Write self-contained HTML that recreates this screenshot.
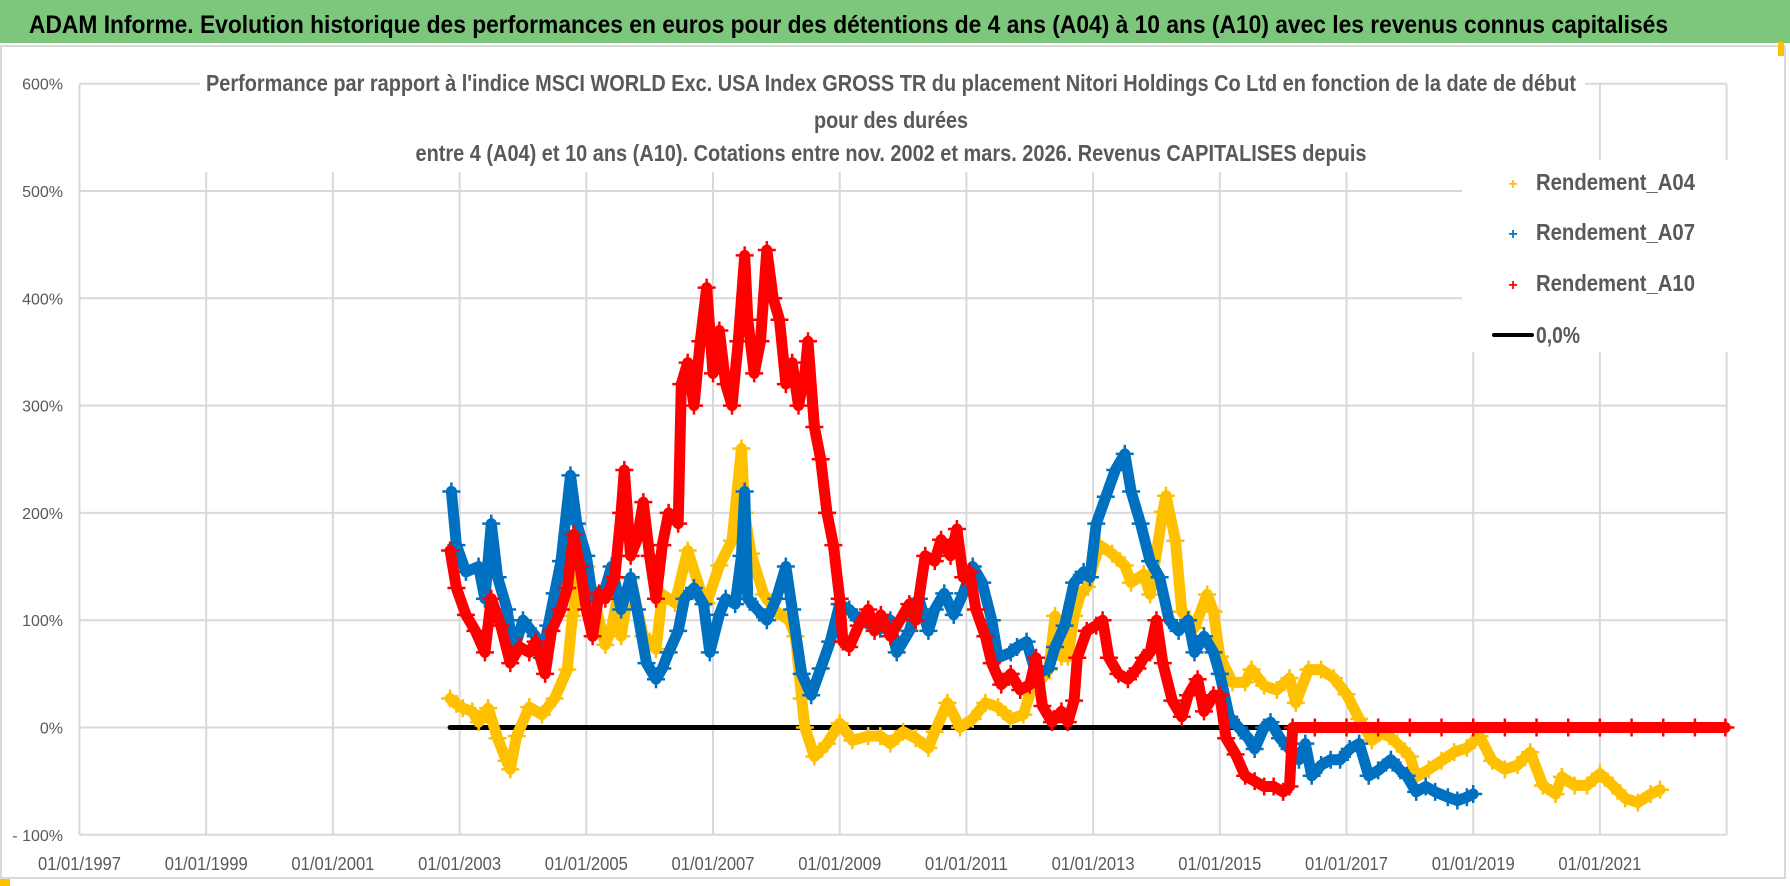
<!DOCTYPE html>
<html><head><meta charset="utf-8"><style>
html,body{margin:0;padding:0;background:#fff;}
svg{display:block;font-family:"Liberation Sans",sans-serif;}
</style></head><body>
<svg id="chart" width="1790" height="886" viewBox="0 0 1790 886" xmlns="http://www.w3.org/2000/svg">
<rect x="0" y="0" width="1790" height="43" fill="#7cc77c"/>
<text x="29" y="33" font-size="25" font-weight="bold" fill="#000" textLength="1639" lengthAdjust="spacingAndGlyphs">ADAM Informe. Evolution historique des performances en euros pour des détentions de 4 ans (A04) à 10 ans (A10) avec les revenus connus capitalisés</text>
<rect x="1" y="46" width="1784" height="832" fill="#fff" stroke="#d9d9d9" stroke-width="2"/>
<rect x="1778" y="42" width="6" height="14" fill="#ffc000"/>
<rect x="0" y="879" width="10" height="7" fill="#ffc000"/>
<g id="grid"></g>
<g id="yticks"></g>
<g id="xticks"></g>
<g id="plot"></g>
<rect x="200" y="64" width="1385" height="108" fill="#fff"/>
<g font-weight="bold" fill="#595959" font-size="23" text-anchor="middle">
<text x="891" y="91" textLength="1370" lengthAdjust="spacingAndGlyphs">Performance par rapport à l'indice MSCI WORLD Exc. USA Index GROSS TR  du placement Nitori Holdings Co Ltd en fonction de la date de début</text>
<text x="891" y="128" textLength="154" lengthAdjust="spacingAndGlyphs">pour des durées</text>
<text x="891" y="161" textLength="951" lengthAdjust="spacingAndGlyphs">entre 4 (A04) et 10 ans (A10). Cotations entre nov. 2002 et mars. 2026. Revenus CAPITALISES depuis</text>
</g>
<g>
<rect x="1462" y="160" width="270" height="192" fill="#fff"/>
<g><text x="1513" y="189" font-size="16" fill="#ffc000" text-anchor="middle" font-weight="bold">+</text><text x="1536" y="190" font-size="23" font-weight="bold" fill="#595959" textLength="159" lengthAdjust="spacingAndGlyphs">Rendement_A04</text></g>
<g><text x="1513" y="239" font-size="16" fill="#0070c0" text-anchor="middle" font-weight="bold">+</text><text x="1536" y="240" font-size="23" font-weight="bold" fill="#595959" textLength="159" lengthAdjust="spacingAndGlyphs">Rendement_A07</text></g>
<g><text x="1513" y="290" font-size="16" fill="#ff0000" text-anchor="middle" font-weight="bold">+</text><text x="1536" y="291" font-size="23" font-weight="bold" fill="#595959" textLength="159" lengthAdjust="spacingAndGlyphs">Rendement_A10</text></g>
<g><line x1="1494" y1="335" x2="1532" y2="335" stroke="#000" stroke-width="4" stroke-linecap="round"/><text x="1536" y="343" font-size="23" font-weight="bold" fill="#595959" textLength="44" lengthAdjust="spacingAndGlyphs">0,0%</text></g>
</g>
</svg>
<script>
const yTicks = [600, 500, 400, 300, 200, 100, 0, -100];
const yTickLabels = ["600%","500%","400%","300%","200%","100%","0%","- 100%"];
const xTickYears = [1997,1999,2001,2003,2005,2007,2009,2011,2013,2015,2017,2019,2021];
const xTickLabels = ["01/01/1997","01/01/1999","01/01/2001","01/01/2003","01/01/2005","01/01/2007","01/01/2009","01/01/2011","01/01/2013","01/01/2015","01/01/2017","01/01/2019","01/01/2021"];
const xGridYears = [1997,1999,2001,2003,2005,2007,2009,2011,2013,2015,2017,2019,2021,2023];

const a04Dates = [2002.85,2002.95,2003.05,2003.2,2003.3,2003.45,2003.6,2003.74,2003.8,2003.9,2004.1,2004.3,2004.5,2004.7,2004.78,2004.9,2005.0,2005.1,2005.3,2005.4,2005.5,2005.55,2005.7,2005.9,2006.0,2006.1,2006.2,2006.4,2006.6,2006.8,2006.9,2007.1,2007.3,2007.45,2007.5,2007.6,2007.8,2008.0,2008.2,2008.3,2008.4,2008.45,2008.6,2008.8,2009.0,2009.2,2009.45,2009.64,2009.8,2010.0,2010.2,2010.4,2010.5,2010.7,2010.9,2011.1,2011.3,2011.5,2011.7,2011.9,2012.0,2012.2,2012.3,2012.4,2012.5,2012.6,2012.7,2012.8,2012.9,2013.1,2013.3,2013.5,2013.6,2013.8,2013.9,2014.1,2014.15,2014.3,2014.4,2014.6,2014.8,2014.9,2015.0,2015.2,2015.4,2015.5,2015.7,2015.9,2016.1,2016.2,2016.4,2016.6,2016.8,2017.0,2017.2,2017.4,2017.6,2017.8,2018.0,2018.1,2018.3,2018.5,2018.7,2018.9,2019.1,2019.3,2019.5,2019.7,2019.9,2020.1,2020.3,2020.4,2020.6,2020.8,2021.0,2021.2,2021.4,2021.6,2021.8,2021.95];
const a04Values = [27,22,18,15,5,18,-10,-31,-39,-8,19,12,27,54,104,143,150,124,77,93,124,85,139,85,80,73,124,116,165,128,116,151,174,260,200,162,124,108,100,85,27,0,-27,-15,4,-12,-8,-8,-15,-4,-10,-19,-4,23,0,8,23,19,8,12,31,46,54,104,66,66,104,124,131,170,162,151,135,143,124,201,216,174,108,93,124,108,66,42,42,54,39,35,46,23,54,54,46,31,8,-12,-4,-15,-27,-46,-39,-31,-23,-19,-8,-31,-39,-35,-23,-54,-62,-46,-54,-54,-43,-54,-66,-70,-62,-58];

const a07Dates = [2002.87,2002.95,2003.1,2003.3,2003.4,2003.5,2003.6,2003.75,2003.85,2004.0,2004.2,2004.3,2004.4,2004.5,2004.6,2004.75,2004.85,2005.0,2005.1,2005.3,2005.4,2005.55,2005.7,2005.8,2005.95,2006.1,2006.2,2006.3,2006.45,2006.55,2006.7,2006.85,2006.95,2007.1,2007.2,2007.35,2007.45,2007.5,2007.55,2007.7,2007.85,2008.0,2008.15,2008.25,2008.4,2008.55,2008.7,2008.85,2009.0,2009.15,2009.3,2009.64,2009.8,2009.9,2010.1,2010.25,2010.4,2010.5,2010.65,2010.8,2010.95,2011.1,2011.25,2011.4,2011.5,2011.7,2011.8,2011.95,2012.1,2012.3,2012.4,2012.55,2012.7,2012.85,2012.95,2013.05,2013.2,2013.35,2013.5,2013.6,2013.75,2013.9,2014.05,2014.2,2014.35,2014.5,2014.6,2014.75,2014.9,2015.0,2015.15,2015.3,2015.45,2015.55,2015.7,2015.8,2015.95,2016.1,2016.25,2016.35,2016.45,2016.6,2016.75,2016.9,2017.05,2017.2,2017.35,2017.5,2017.7,2017.85,2017.95,2018.1,2018.25,2018.4,2018.6,2018.75,2018.9,2019.0];
const a07Values = [220,170,145,150,120,190,140,110,70,100,85,65,95,125,155,235,190,160,120,130,150,110,140,110,60,45,55,70,90,120,130,115,70,105,120,115,160,220,120,110,100,120,150,110,50,30,55,80,115,110,100,92,100,70,90,120,90,110,125,105,125,150,135,100,65,70,75,80,50,55,75,95,135,145,140,190,215,240,255,220,190,155,140,100,90,100,70,85,70,50,10,0,-10,-20,0,5,-10,-20,-30,-15,-45,-35,-30,-30,-20,-15,-45,-40,-30,-40,-45,-60,-55,-60,-65,-68,-65,-62];

const a10Dates = [2002.85,2002.95,2003.1,2003.25,2003.4,2003.5,2003.65,2003.8,2003.95,2004.1,2004.2,2004.35,2004.45,2004.6,2004.7,2004.8,2004.9,2005.0,2005.1,2005.2,2005.3,2005.45,2005.55,2005.6,2005.7,2005.8,2005.9,2006.0,2006.1,2006.2,2006.3,2006.45,2006.5,2006.6,2006.7,2006.8,2006.9,2007.0,2007.1,2007.2,2007.3,2007.4,2007.5,2007.55,2007.65,2007.75,2007.85,2007.95,2008.05,2008.15,2008.25,2008.35,2008.45,2008.5,2008.6,2008.7,2008.8,2008.9,2009.0,2009.05,2009.15,2009.3,2009.45,2009.55,2009.65,2009.8,2009.95,2010.1,2010.2,2010.35,2010.5,2010.6,2010.75,2010.85,2010.95,2011.05,2011.15,2011.3,2011.4,2011.55,2011.7,2011.85,2012.0,2012.1,2012.2,2012.35,2012.5,2012.6,2012.7,2012.75,2012.9,2013.05,2013.15,2013.25,2013.4,2013.55,2013.7,2013.8,2013.9,2014.0,2014.1,2014.25,2014.4,2014.5,2014.65,2014.75,2014.9,2015.0,2015.1,2015.25,2015.4,2015.55,2015.7,2015.85,2016.0,2016.1,2016.15,2016.5,2017.0,2017.5,2018.0,2018.5,2019.0,2019.5,2020.0,2020.5,2021.0,2021.5,2022.0,2022.5,2022.98];
const a10Values = [165,130,105,90,70,120,95,60,75,70,80,50,90,110,130,180,150,110,85,125,120,140,200,240,160,175,210,160,120,170,200,190,320,340,300,360,410,330,370,320,300,360,440,380,330,360,445,400,380,320,340,300,330,360,280,250,200,170,120,80,75,95,110,90,105,85,100,115,100,160,155,175,160,185,140,145,110,85,60,40,50,35,40,65,20,5,15,5,25,65,90,95,100,65,50,45,55,65,70,100,60,25,10,30,45,15,30,30,-10,-25,-45,-50,-55,-55,-60,-55,0,0,0,0,0,0,0,0,0,0,0,0,0,0,0];

const zeroLineDates = [2002.85, 2022.98];

const X0 = 79.5, PX_PER_YEAR = 63.35, Y0 = 727.5, PX_PER_PCT = 1.073;
function xScale(yr){ return X0 + (yr - 1997) * PX_PER_YEAR; }
function yScale(v){ return Y0 - v * PX_PER_PCT; }
const NS = "http://www.w3.org/2000/svg";
function mk(tag, attrs, parent){ const e = document.createElementNS(NS, tag); for (const k in attrs) e.setAttribute(k, attrs[k]); parent.appendChild(e); return e; }

const grid = document.getElementById('grid');
yTicks.forEach(v => {
  const l = mk('line', {x1: X0, x2: xScale(2023), y1: yScale(v), y2: yScale(v), stroke: '#d9d9d9', 'stroke-width': 2}, grid);
  
  
});
xGridYears.forEach(yr => {
  const l = mk('line', {x1: xScale(yr), x2: xScale(yr), y1: yScale(600), y2: yScale(-100), stroke: '#d9d9d9', 'stroke-width': 2}, grid);
  
  
});
const yt = document.getElementById('yticks');
yTicks.forEach((v, i) => {
  const t = mk('text', {x: 63, y: yScale(v) + 6, 'font-size': 16, fill: '#595959', 'text-anchor': 'end'}, yt);
  
  
  t.textContent = yTickLabels[i];
});
const xt = document.getElementById('xticks');
xTickYears.forEach((yr, i) => {
  const t = mk('text', {x: xScale(yr), y: 870, 'font-size': 18, fill: '#595959', 'text-anchor': 'middle', textLength: 83, lengthAdjust: 'spacingAndGlyphs'}, xt);
  
  
  t.textContent = xTickLabels[i];
});

const plot = document.getElementById('plot');
const zl = mk('line', {x1: xScale(zeroLineDates[0]), x2: xScale(zeroLineDates[1]), y1: yScale(0), y2: yScale(0), stroke: '#000', 'stroke-width': 5, 'stroke-linecap': 'round'}, plot);



function drawSeries(dates, values, color, name){
  const g = mk('g', {}, plot);
  
  
  const pts = dates.map((d, i) => xScale(d).toFixed(1) + ',' + yScale(values[i]).toFixed(1)).join(' ');
  const pl = mk('polyline', {points: pts, fill: 'none', stroke: color, 'stroke-width': 11, 'stroke-linejoin': 'round', 'stroke-linecap': 'round'}, g);
  
  
  let d = '';
  dates.forEach((dt, i) => {
    const x = xScale(dt), y = yScale(values[i]);
    d += 'M' + (x - 9) + ' ' + y + 'h18M' + x + ' ' + (y - 9) + 'v18';
  });
  const mp = mk('path', {d: d, stroke: color, 'stroke-width': 2.5, fill: 'none'}, g);
  
  
}
drawSeries(a04Dates, a04Values, '#ffc000', 'series-a04');
drawSeries(a07Dates, a07Values, '#0070c0', 'series-a07');
drawSeries(a10Dates, a10Values, '#ff0000', 'series-a10');
</script>
</body></html>
